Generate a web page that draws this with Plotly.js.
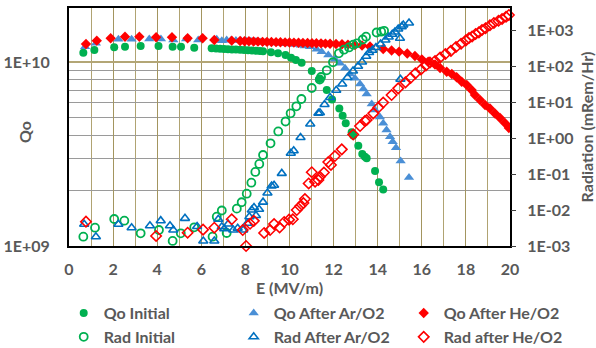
<!DOCTYPE html>
<html>
<head>
<meta charset="utf-8">
<script src="https://cdn.plot.ly/plotly-3.0.1.min.js"></script>
<style>html,body{margin:0;padding:0;background:#fff;}#chart{width:596px;height:348px;}</style>
</head>
<body>
<div id="chart"></div>
<script>
// ---- Data ----
// Qo values are given in units of 1E+09
const QO_UNIT = 1e9;

const qoInitE = [0.65,1.15,2.05,2.54,3.25,4.06,4.70,5.08,5.68,6.47,6.67,6.85,7.03,7.21,7.39,7.57,7.76,7.94,8.12,8.30,8.48,8.66,8.80,9.16,9.48,9.82,10.07,10.29,10.55,11.01,11.36,11.69,11.93,12.26,12.41,12.55,12.82,12.89,13.12,13.30,13.42,13.50,13.88,14.06,14.25];
const qoInitQ = [11.23,11.62,12.02,12.11,12.22,12.22,12.11,12.11,11.96,11.87,11.84,11.81,11.77,11.74,11.71,11.68,11.65,11.62,11.58,11.55,11.51,11.48,11.45,11.29,11.15,10.91,10.55,10.25,9.91,8.93,8.08,7.04,6.26,5.59,5.11,4.64,4.15,3.98,3.51,3.16,3.06,3.00,2.56,2.22,2.03];

const qoArE = [0.73,1.22,2.24,2.84,3.64,4.17,4.73,5.31,5.86,6.70,6.93,7.15,7.35,7.57,7.80,8.03,8.25,8.48,8.71,8.93,9.16,9.39,9.61,9.84,10.07,10.29,10.52,10.70,10.93,11.23,11.46,11.76,12.06,12.29,12.52,12.74,12.97,13.20,13.35,13.50,13.73,13.88,14.10,14.25,14.40,14.56,14.68,14.83,15.04,15.42];
const qoArQ = [12.11,12.64,13.28,13.28,13.34,13.34,13.17,13.34,13.17,13.28,13.06,13.17,13.12,13.09,13.06,13.01,12.96,12.92,12.84,12.80,12.76,12.69,12.64,12.58,12.53,12.45,12.33,12.22,12.11,11.72,11.38,10.91,10.34,9.84,9.24,8.61,8.16,7.59,7.13,6.70,5.91,5.48,5.02,4.64,4.27,3.93,3.69,3.42,2.90,2.36];

const qoHeE = [0.77,1.26,1.89,2.54,3.19,3.95,4.67,5.38,6.06,6.59,7.38,7.76,7.96,8.16,8.37,8.57,8.78,8.98,9.18,9.39,9.59,9.80,10.00,10.20,10.41,10.61,10.82,11.02,11.22,11.43,11.63,11.84,12.11,12.38,12.65,12.97,13.29,13.65,14.25,14.63,14.97,15.34,15.69,16.00,16.29,16.60,16.83,17.13,17.36,17.58,17.81,18.04,18.26,18.41,18.64,18.87,19.09,19.32,19.55,19.77,19.95];
const qoHeQ = [12.53,13.06,13.45,13.72,13.72,13.62,13.62,13.45,13.45,13.17,13.06,13.01,12.97,12.96,12.92,12.91,12.87,12.86,12.84,12.82,12.80,12.78,12.76,12.75,12.73,12.70,12.69,12.66,12.64,12.63,12.59,12.56,12.53,12.48,12.43,12.37,12.29,12.14,11.77,11.55,11.38,11.12,10.78,10.34,10.04,9.69,9.28,8.86,8.61,8.26,7.81,7.50,7.04,6.62,6.22,5.84,5.59,5.25,4.96,4.66,4.38];

// Radiation in mRem/Hr
const radInitE = [0.65,1.18,2.05,2.51,3.25,4.08,4.70,5.07,5.68,6.51,6.70,6.93,7.15,7.61,7.83,8.06,8.27,8.45,8.63,8.80,9.14,9.49,9.82,10.05,10.31,10.54,11.01,11.37,11.43,11.69,11.97,12.24,12.47,12.70,12.89,13.06,13.32,13.47,13.95,14.16,14.29];
const radInitR = [1.81e-3,3.22e-3,5.62e-3,5.05e-3,2.25e-3,2.78e-3,1.38e-3,2.25e-3,3.30e-3,1.81e-3,6.52e-3,9.68e-3,2.30e-3,1.09e-2,1.64e-2,2.84e-2,5.73e-2,0.114,0.190,0.337,0.713,1.52,2.87,4.85,7.60,12.1,24.5,42.2,49.5,76.0,127,225,284,327,391,427,545,652,853,897,950];

const radArE = [0.69,1.22,2.24,2.84,3.67,4.16,4.58,4.73,5.26,5.81,6.09,6.59,6.77,6.93,7.04,7.22,7.45,7.65,7.90,8.09,8.18,8.29,8.39,8.48,8.62,8.80,9.00,9.19,9.30,9.65,10.06,10.19,10.50,10.94,11.31,11.38,11.59,11.84,12.12,12.39,12.63,12.88,13.11,13.29,13.48,13.61,13.76,13.92,14.13,14.35,14.50,14.66,14.78,14.93,15.01,15.03,15.09,15.16,15.42];
const radArR = [4.01e-3,1.81e-3,4.01e-3,3.22e-3,3.66e-3,5.05e-3,3.66e-3,2.78e-3,5.87e-3,3.48e-3,1.38e-3,1.38e-3,5.52e-3,3.43e-3,3.01e-3,4.08e-3,2.78e-3,3.11e-3,2.78e-3,4.28e-3,6.52e-3,1.0e-2,1.17e-2,7.03e-3,1.05e-2,1.65e-2,2.97e-2,4.65e-2,4.86e-2,0.104,0.376,0.444,1.03,2.45,4.85,5.04,8.53,13.3,21.1,31.6,47.9,72.6,98.1,129,186,237,273,327,408,527,639,760,880,1067,588,42.7,1236,1376,1565];

const radHeE = [0.77,3.95,5.38,6.08,6.59,7.38,7.88,8.03,8.21,8.38,8.85,9.12,9.30,9.55,9.76,9.98,10.15,10.33,10.48,10.63,10.70,10.87,11.01,11.16,11.31,11.38,11.56,11.76,11.88,12.06,12.37,12.89,13.20,13.42,13.50,13.80,14.03,14.25,14.63,14.93,15.26,15.49,15.71,15.96,16.19,16.37,16.60,16.83,17.07,17.32,17.55,17.78,18.00,18.14,18.28,18.44,18.59,18.73,18.89,19.09,19.27,19.48,19.64,19.82,19.95];
const radHeR = [4.73e-3,1.90e-3,2.34e-3,2.84e-3,3.22e-3,5.52e-3,2.78e-3,1.0e-3,4.14e-3,5.01e-3,2.30e-3,2.78e-3,4.08e-3,3.27e-3,4.64e-3,5.38e-3,5.52e-3,1.0e-2,1.27e-2,1.56e-2,2.02e-2,5.45e-2,0.112,6.11e-2,6.81e-2,8.41e-2,0.110,0.215,0.178,0.316,0.485,1.25,2.15,2.97,3.16,4.85,7.03,9.68,15.6,24.0,35.2,46.4,62.7,80.0,103,125,138,172,215,264,337,416,517,599,660,774,863,1000,1115,1352,1565,1802,2022,2327,2610];

// Tick labels
const qoTickVals = [1e9, 1e10];
const qoTickText = ['1E+09', '1E+10'];
const qoMinorVals = [2e9,3e9,4e9,5e9,6e9,7e9,8e9,9e9];
const radTickVals = [1e-3,1e-2,1e-1,1,1e1,1e2,1e3];
const radTickText = ['1E-03','1E-02','1E-01','1E+00','1E+01','1E+02','1E+03'];

// ---- Styling ----
const FONT = 'Lato, "Open Sans", sans-serif';
const TXT = '#595959';
const GREEN = '#00b050', BLUE_F = '#4a8fd6', BLUE_O = '#0070c0', RED = '#ff0000';

const scaleQ = a => a.map(v => v * QO_UNIT);

const traces = [
  {name:'Qo Initial', x:qoInitE, y:scaleQ(qoInitQ), yaxis:'y', legend:'legend',
   mode:'markers', type:'scatter', marker:{symbol:'circle', size:8, color:GREEN}},
  {name:'Qo After Ar/O2', x:qoArE, y:scaleQ(qoArQ), yaxis:'y', legend:'legend',
   mode:'markers', type:'scatter', marker:{symbol:'triangle-up', size:9, color:BLUE_F}},
  {name:'Qo After He/O2', x:qoHeE, y:scaleQ(qoHeQ), yaxis:'y', legend:'legend',
   mode:'markers', type:'scatter', marker:{symbol:'diamond', size:8, color:RED}},
  {name:'Rad Initial', x:radInitE, y:radInitR, yaxis:'y2', legend:'legend2',
   mode:'markers', type:'scatter', marker:{symbol:'circle-open', size:8, color:GREEN, line:{width:1.8, color:GREEN}}},
  {name:'Rad After Ar/O2', x:radArE, y:radArR, yaxis:'y2', legend:'legend2',
   mode:'markers', type:'scatter', marker:{symbol:'triangle-up-open', size:8, color:BLUE_O, line:{width:1.6, color:BLUE_O}}},
  {name:'Rad after He/O2', x:radHeE, y:radHeR, yaxis:'y2', legend:'legend2', cliponaxis:false,
   mode:'markers', type:'scatter', marker:{symbol:'diamond-open', size:8, color:RED, line:{width:1.6, color:RED}}}
];

const legendCommon = {
  orientation:'h', x:-0.012, xanchor:'left', yanchor:'middle',
  entrywidth:125, entrywidthmode:'pixels', bgcolor:'rgba(0,0,0,0)',
  font:{family:FONT, size:16, color:TXT, weight:'bold'}, itemclick:false, itemdoubleclick:false
};

const layout = {
  width:596, height:348,
  margin:{l:69, r:85.5, t:8, b:102, pad:0, autoexpand:false},
  paper_bgcolor:'#ffffff', plot_bgcolor:'#ffffff',
  font:{family:FONT, size:16, color:TXT, weight:'bold'},
  showlegend:true,
  xaxis:{
    range:[0,20], tick0:0, dtick:2, ticks:'', ticklabelstandoff:8,
    showgrid:true, gridcolor:'#a3955f', gridwidth:1,
    minor:{dtick:1, showgrid:true, gridcolor:'#b0a372', gridwidth:1},
    showline:true, linecolor:'#000000', linewidth:2, mirror:true, zeroline:false,
    tickfont:{family:FONT, size:16, color:TXT, weight:'bold'},
    title:{text:'E (MV/m)', standoff:6, font:{family:FONT, size:16, color:TXT, weight:'bold'}}
  },
  yaxis:{
    type:'log', range:[9, 10.2935], tickmode:'array', tickvals:qoTickVals, ticktext:qoTickText,
    ticks:'', ticklabelstandoff:14,
    showgrid:true, gridcolor:'#b3a676', gridwidth:1.5,
    minor:{tickmode:'array', tickvals:qoMinorVals, showgrid:true, gridcolor:'#9a9a9a', gridwidth:1, ticks:''},
    showline:true, linecolor:'#000000', linewidth:2, mirror:true, zeroline:false,
    tickfont:{family:FONT, size:16, color:TXT, weight:'bold'}
  },
  yaxis2:{
    type:'log', overlaying:'y', side:'right', range:[-3, 3.611],
    tickmode:'array', tickvals:radTickVals, ticktext:radTickText,
    ticks:'outside', ticklen:5, tickwidth:1, tickcolor:'#404040', ticklabelstandoff:8,
    showgrid:false, showline:false, zeroline:false,
    tickfont:{family:FONT, size:16, color:TXT, weight:'bold'},
    title:{text:'Radiation (mRem/Hr)', standoff:10, font:{family:FONT, size:16, color:TXT, weight:'bold'}}
  },
  legend:Object.assign({}, legendCommon, {y:-0.282}),
  legend2:Object.assign({}, legendCommon, {y:-0.382}),
  annotations:[
    {text:'Qo', xref:'paper', yref:'paper', x:-0.0997, y:0.479, textangle:-90,
     showarrow:false, xanchor:'center', yanchor:'middle',
     font:{family:FONT, size:16, color:TXT, weight:'bold'}}
  ]
};

Plotly.newPlot('chart', traces, layout, {displayModeBar:false, staticPlot:true});
</script>
</body>
</html>
